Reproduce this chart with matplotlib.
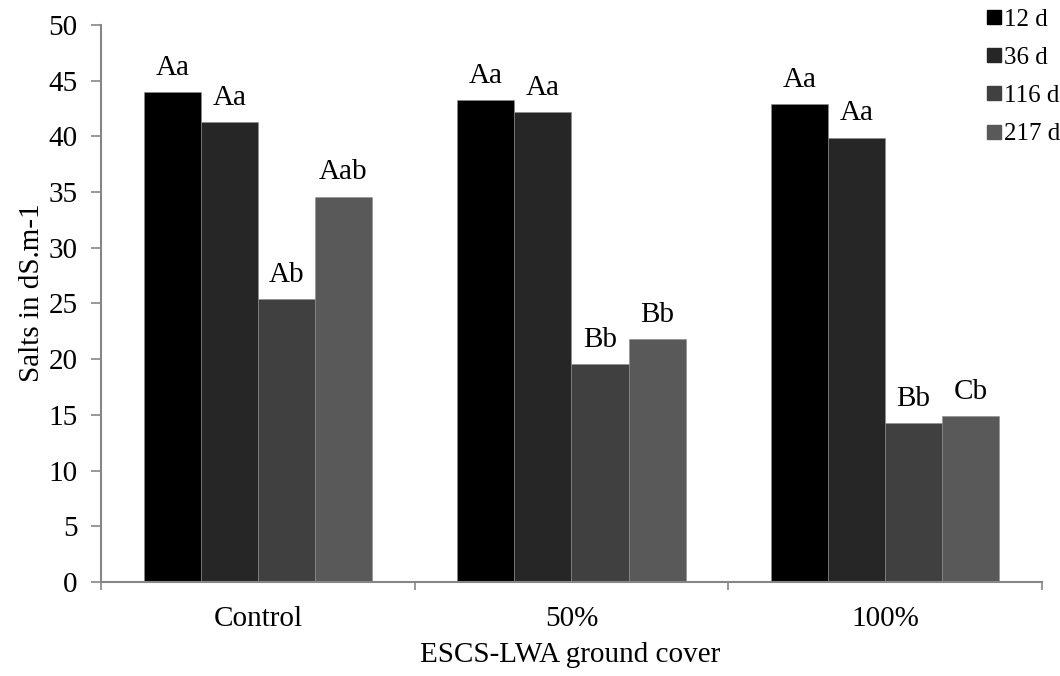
import matplotlib.pyplot as plt
import numpy as np
from matplotlib.lines import Line2D

plt.rcParams['font.family'] = ['Liberation Serif', 'DejaVu Serif']

categories = ['Control', '50%', '100%']
series_names = ['12 d', '36 d', '116 d', '217 d']
series_colors = ['#000000', '#262626', '#404040', '#595959']
values = {
    '12 d': [44.0, 43.3, 42.9],
    '36 d': [41.3, 42.2, 39.9],
    '116 d': [25.4, 19.6, 14.3],
    '217 d': [34.6, 21.8, 14.9],
}
letters = {
    '12 d': ['Aa', 'Aa', 'Aa'],
    '36 d': ['Aa', 'Aa', 'Aa'],
    '116 d': ['Ab', 'Bb', 'Bb'],
    '217 d': ['Aab', 'Bb', 'Cb'],
}

FS = 21
axis_grey = '#868686'

fig = plt.figure(figsize=(10.6, 6.76), dpi=100)
ax = fig.add_axes([101 / 1060, 1 - 582 / 676, 941 / 1060, 557 / 676])

x = np.arange(len(categories))
width = 1 / 5.5
for i, name in enumerate(series_names):
    pos = x + (i - 1.5) * width
    bars = ax.bar(pos, values[name], width=width, color=series_colors[i],
                  edgecolor='#8c8c8c', linewidth=0.4, zorder=2)
    for b, lab in zip(bars, letters[name]):
        ax.annotate(lab, (b.get_x() + b.get_width() / 2, b.get_height()),
                    xytext=(0, 8), textcoords='offset points',
                    ha='center', va='bottom', fontsize=FS)

ax.set_xlim(-0.5, 2.5)
ax.set_ylim(0, 50)
ax.set_yticks(np.arange(0, 51, 5))
ax.tick_params(axis='y', labelsize=21, length=7, width=1.2, color=axis_grey, pad=10)

ax.set_xticks([-0.5, 0.5, 1.5, 2.5])
ax.set_xticklabels([])
ax.tick_params(axis='x', which='major', length=6, width=1.2, color=axis_grey)
ax.set_xticks(x, minor=True)
ax.set_xticklabels(categories, minor=True)
ax.tick_params(axis='x', which='minor', length=0, labelsize=FS, pad=17)

for side in ['top', 'right']:
    ax.spines[side].set_visible(False)
for side in ['left', 'bottom']:
    ax.spines[side].set_color(axis_grey)
    ax.spines[side].set_linewidth(1.5)

ax.set_ylabel('Salts in dS.m-1', fontsize=21)
ax.yaxis.set_label_coords(-0.06, 0.52)
fig.text(570 / 1060, 1 - 655 / 676, 'ESCS-LWA ground cover', fontsize=FS,
         ha='center', va='center')

handles = [Line2D([], [], linestyle='none', marker='s', markersize=10,
                  color=c) for c in series_colors]
fig.legend(handles, series_names, loc='upper right', bbox_to_anchor=(1.0, 0.988),
           frameon=False, fontsize=18, handlelength=0.5, handletextpad=0.15,
           labelspacing=0.63, borderaxespad=0.0, borderpad=0.0)

fig.savefig('out.png', dpi=100)
